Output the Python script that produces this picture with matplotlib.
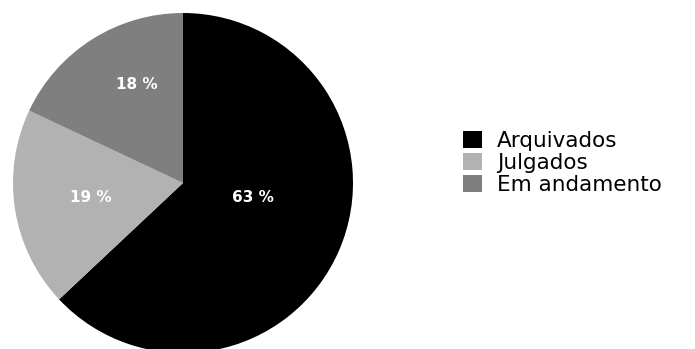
import matplotlib
matplotlib.use("Agg")
import matplotlib.pyplot as plt
import numpy as np

# Situação dos processos
categorias = ["Arquivados", "Julgados", "Em andamento"]
valores = [63, 19, 18]
cores = ["#000000", "#b2b2b2", "#7f7f7f"]

# posição dos rótulos de percentual (distância relativa ao raio, desvio angular em graus)
ajustes = [(0.42, 12), (0.55, 0), (0.64, -7)]

fig = plt.figure(figsize=(6.95, 3.49), dpi=100)
ax = fig.add_axes([13 / 695, -4 / 349, 340 / 695, 340 / 349])

wedges, textos, autotextos = ax.pie(
    valores, colors=cores, startangle=90, counterclock=False,
    autopct="%d %%", pctdistance=0.5, radius=1,
    textprops=dict(color="white", fontsize=11, fontweight="bold"),
    wedgeprops=dict(linewidth=0),
)

for w, t, (dist, desv) in zip(wedges, autotextos, ajustes):
    ang = np.deg2rad((w.theta1 + w.theta2) / 2 + desv)
    t.set_position((dist * np.cos(ang), dist * np.sin(ang)))

ax.set_xlim(-1, 1)
ax.set_ylim(-1, 1)
ax.set_aspect("equal")

fig.legend(wedges, categorias, loc="center left", bbox_to_anchor=(444 / 695, 1 - 163 / 349),
           frameon=False, prop=dict(size=15.5, weight="medium"),
           handlelength=0.85, handleheight=0.85,
           handletextpad=0.7, labelspacing=0.08)

fig.savefig("out.png", dpi=100)
